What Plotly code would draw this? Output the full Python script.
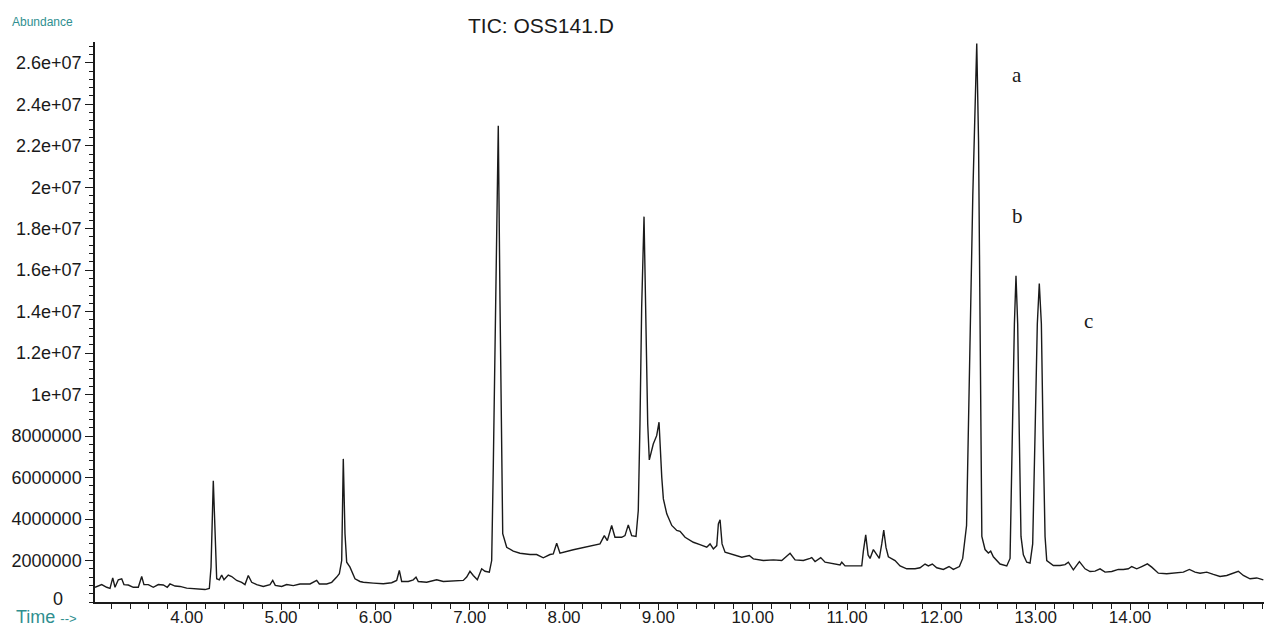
import plotly.graph_objects as go
import numpy as np

# ---------------- data (time in min, abundance in millions of counts) ----------------
time_s1 = [3.028, 3.099, 3.152, 3.187, 3.216, 3.240, 3.275, 3.311, 3.335, 3.381,
           3.434, 3.487, 3.523, 3.547, 3.593, 3.646, 3.699, 3.752, 3.794, 3.823,
           3.876, 3.929, 4.000, 4.106, 4.194, 4.240, 4.258, 4.282, 4.307, 4.318,
           4.346, 4.371, 4.395, 4.441, 4.477, 4.530, 4.583, 4.618, 4.653, 4.689,
           4.742, 4.812, 4.883, 4.912, 4.939, 5.007, 5.060, 5.130, 5.201, 5.307,
           5.378, 5.406, 5.484, 5.537, 5.590, 5.618]
abund_s1 = [0.71, 0.84, 0.71, 0.66, 1.16, 0.71, 1.07, 1.12, 0.84, 0.82,
            0.71, 0.71, 1.23, 0.84, 0.84, 0.71, 0.84, 0.82, 0.71, 0.87,
            0.77, 0.75, 0.67, 0.65, 0.60, 0.65, 1.68, 5.85, 1.68, 1.12,
            1.07, 1.30, 1.07, 1.30, 1.23, 1.04, 0.95, 0.84, 1.28, 0.95,
            0.84, 0.75, 0.84, 1.04, 0.80, 0.75, 0.84, 0.79, 0.87, 0.87,
            1.04, 0.87, 0.87, 0.95, 1.20, 1.36]

time_s2 = [5.643, 5.660, 5.678, 5.696, 5.731, 5.784, 5.837, 5.872, 5.978, 6.084,
           6.173, 6.226, 6.254, 6.279, 6.349, 6.402, 6.431, 6.455, 6.544, 6.650,
           6.720, 6.826, 6.932, 6.968, 7.003, 7.038, 7.081, 7.127, 7.162, 7.208,
           7.233, 7.250, 7.276, 7.303, 7.321, 7.339, 7.350, 7.392, 7.462, 7.533,
           7.639, 7.710, 7.780, 7.851, 7.886, 7.922, 7.957]
abund_s2 = [2.00, 6.90, 3.29, 1.92, 1.68, 1.12, 0.99, 0.95, 0.91, 0.88,
            0.93, 1.04, 1.52, 0.99, 0.99, 1.07, 1.20, 0.99, 0.95, 1.07,
            0.99, 1.00, 1.04, 1.20, 1.48, 1.28, 1.07, 1.60, 1.48, 1.44,
            2.00, 6.50, 14.53, 22.96, 14.53, 6.50, 3.29, 2.64, 2.45, 2.35,
            2.29, 2.29, 2.13, 2.29, 2.32, 2.83, 2.35]

time_s3 = [8.098, 8.240, 8.381, 8.427, 8.459, 8.505, 8.540, 8.611, 8.646, 8.681,
           8.717, 8.763, 8.787, 8.805, 8.823, 8.848, 8.869, 8.887, 8.904, 8.946,
           8.982, 9.007, 9.036, 9.053, 9.089, 9.142, 9.195, 9.230, 9.283, 9.371,
           9.441, 9.513, 9.548, 9.583, 9.619, 9.636, 9.654, 9.675, 9.707, 9.795,
           9.884, 9.964, 10.007, 10.113, 10.219, 10.308, 10.396, 10.449, 10.537]
abund_s3 = [2.52, 2.67, 2.80, 3.20, 2.96, 3.69, 3.12, 3.12, 3.20, 3.72,
            3.20, 3.16, 4.41, 8.59, 14.21, 18.58, 13.41, 8.59, 6.85, 7.62,
            8.02, 8.67, 6.01, 4.97, 4.25, 3.69, 3.45, 3.41, 3.12, 2.88,
            2.77, 2.64, 2.80, 2.56, 2.72, 3.77, 3.96, 2.80, 2.40, 2.29,
            2.16, 2.24, 2.08, 2.00, 2.03, 2.00, 2.35, 2.03, 2.00]

time_s4 = [10.608, 10.626, 10.661, 10.721, 10.767, 10.855, 10.926, 10.944, 10.979, 11.067,
           11.156, 11.173, 11.198, 11.223, 11.244, 11.279, 11.315, 11.342, 11.368, 11.389,
           11.413, 11.438, 11.509, 11.562, 11.633, 11.721, 11.774, 11.827, 11.862, 11.904,
           11.951, 12.021, 12.081, 12.127, 12.191, 12.226, 12.267, 12.301, 12.333, 12.375,
           12.394, 12.407, 12.421, 12.429, 12.463, 12.498, 12.523, 12.551, 12.622, 12.693,
           12.728, 12.752, 12.774, 12.791, 12.809, 12.826, 12.844, 12.869, 12.905, 12.940,
           12.968, 12.993, 13.017, 13.038, 13.060, 13.078, 13.099]
abund_s4 = [2.10, 2.14, 1.95, 2.14, 1.92, 1.83, 1.79, 1.92, 1.74, 1.74,
            1.74, 2.45, 3.24, 2.27, 2.10, 2.53, 2.27, 2.10, 2.80, 3.47,
            2.63, 2.18, 2.00, 1.74, 1.60, 1.60, 1.65, 1.83, 1.74, 1.83,
            1.65, 1.57, 1.71, 1.57, 1.71, 2.10, 3.69, 11.64, 19.59, 26.93,
            22.24, 15.17, 8.10, 3.16, 2.53, 2.36, 2.45, 2.18, 1.83, 1.74,
            2.10, 8.10, 13.40, 15.73, 13.40, 8.10, 3.16, 2.27, 1.92, 1.88,
            2.80, 8.10, 13.40, 15.35, 13.40, 8.10, 3.16]

time_s5 = [13.117, 13.187, 13.258, 13.311, 13.346, 13.399, 13.463, 13.523, 13.576, 13.629,
           13.682, 13.735, 13.806, 13.876, 13.929, 13.982, 14.018, 14.071, 14.124, 14.184,
           14.230, 14.300, 14.389, 14.459, 14.530, 14.565, 14.629, 14.689, 14.742, 14.813,
           14.883, 14.954, 15.025, 15.078, 15.148, 15.201, 15.272, 15.343, 15.413]
abund_s5 = [2.00, 1.76, 1.76, 1.80, 1.92, 1.55, 1.95, 1.60, 1.47, 1.49,
            1.60, 1.44, 1.47, 1.57, 1.57, 1.60, 1.71, 1.60, 1.71, 1.84,
            1.68, 1.39, 1.36, 1.39, 1.44, 1.44, 1.57, 1.44, 1.39, 1.44,
            1.33, 1.23, 1.28, 1.36, 1.48, 1.28, 1.12, 1.16, 1.07]

x_tick_vals = [4, 5, 6, 7, 8, 9, 10, 11, 12, 13, 14]
x_tick_text = ["4.00", "5.00", "6.00", "7.00", "8.00", "9.00", "10.00", "11.00",
               "12.00", "13.00", "14.00"]
y_tick_vals = [2e6, 4e6, 6e6, 8e6, 1e7, 1.2e7, 1.4e7, 1.6e7, 1.8e7, 2e7, 2.2e7, 2.4e7, 2.6e7]
y_tick_text = ["2000000", "4000000", "6000000", "8000000", "1e+07", "1.2e+07", "1.4e+07",
               "1.6e+07", "1.8e+07", "2e+07", "2.2e+07", "2.4e+07", "2.6e+07"]

peak_labels = ["a", "b", "c"]
peak_label_x = [12.805, 12.805, 13.555]
peak_label_y = [25.4e6, 18.6e6, 13.55e6]

times = time_s1 + time_s2 + time_s3 + time_s4 + time_s5
abund_m = abund_s1 + abund_s2 + abund_s3 + abund_s4 + abund_s5
assert len(times) == len(abund_m)
abundance = np.array(abund_m) * 1e6

# ---------------- figure ----------------
W, H = 1264, 627
ML, MR, MT, MB = 95, 0, 42, 25
TEAL = "#2f8f8f"
INK = "#1a1a1a"
SANS = "Liberation Sans, Arial, Helvetica, sans-serif"
SERIF = "Liberation Serif, Times New Roman, serif"


def px(xp):
    return (xp - ML) / (W - ML - MR)


def py(yp):
    return (H - MB - yp) / (H - MT - MB)


fig = go.Figure()
fig.add_trace(go.Scatter(x=times, y=abundance, mode="lines",
                         line=dict(color=INK, width=1.4), hoverinfo="x+y",
                         showlegend=False))

annotations = [
    dict(text="TIC: OSS141.D", x=px(541), y=py(25), xref="paper", yref="paper",
         showarrow=False, xanchor="center", yanchor="middle",
         font=dict(family=SANS, size=21, color=INK)),
    dict(text="Abundance", x=px(10), y=py(22), xref="paper", yref="paper",
         showarrow=False, xanchor="left", yanchor="middle",
         font=dict(family=SANS, size=12, color=TEAL)),
    dict(text="Time <span style='font-size:13px'>--&gt;</span>", x=px(14), y=py(617),
         xref="paper", yref="paper", showarrow=False, xanchor="left", yanchor="middle",
         font=dict(family=SANS, size=18, color=TEAL)),
    dict(text="0", x=px(57.5), y=py(599), xref="paper", yref="paper",
         showarrow=False, xanchor="center", yanchor="middle",
         font=dict(family=SANS, size=18, color=INK)),
]
for lab, lx, ly in zip(peak_labels, peak_label_x, peak_label_y):
    annotations.append(dict(text=lab, x=lx, y=ly, xref="x", yref="y", showarrow=False,
                            xanchor="center", yanchor="middle",
                            font=dict(family=SERIF, size=21, color=INK)))

fig.update_layout(
    width=W, height=H,
    margin=dict(l=ML, r=MR, t=MT, b=MB, autoexpand=False),
    paper_bgcolor="white", plot_bgcolor="white",
    annotations=annotations,
    xaxis=dict(range=[3.028, 15.42], showgrid=False, zeroline=False,
               showline=True, linecolor=INK, linewidth=1.5,
               ticks="outside", ticklen=6, tickwidth=1.2, tickcolor=INK,
               tickvals=x_tick_vals, ticktext=x_tick_text,
               ticklabelstandoff=-7,
               tickfont=dict(family=SANS, size=17, color=INK),
               minor=dict(tick0=3, dtick=0.2, ticks="outside", ticklen=5,
                          tickwidth=1.2, tickcolor=INK, showgrid=False),
               automargin=False, fixedrange=True),
    yaxis=dict(range=[0, 2.7e7], showgrid=False, zeroline=False,
               showline=True, linecolor=INK, linewidth=1.5,
               ticks="outside", ticklen=8, tickwidth=1.2, tickcolor=INK,
               tickvals=y_tick_vals, ticktext=y_tick_text,
               tickfont=dict(family=SANS, size=18, color=INK),
               minor=dict(tick0=0, dtick=4e5, ticks="outside", ticklen=4,
                          tickwidth=1.2, tickcolor=INK, showgrid=False),
               automargin=False, fixedrange=True),
)

fig.write_html(
    "out.html",
    config={"displayModeBar": False},
    post_script="document.body.style.margin='0';document.body.style.overflow='hidden';",
)
